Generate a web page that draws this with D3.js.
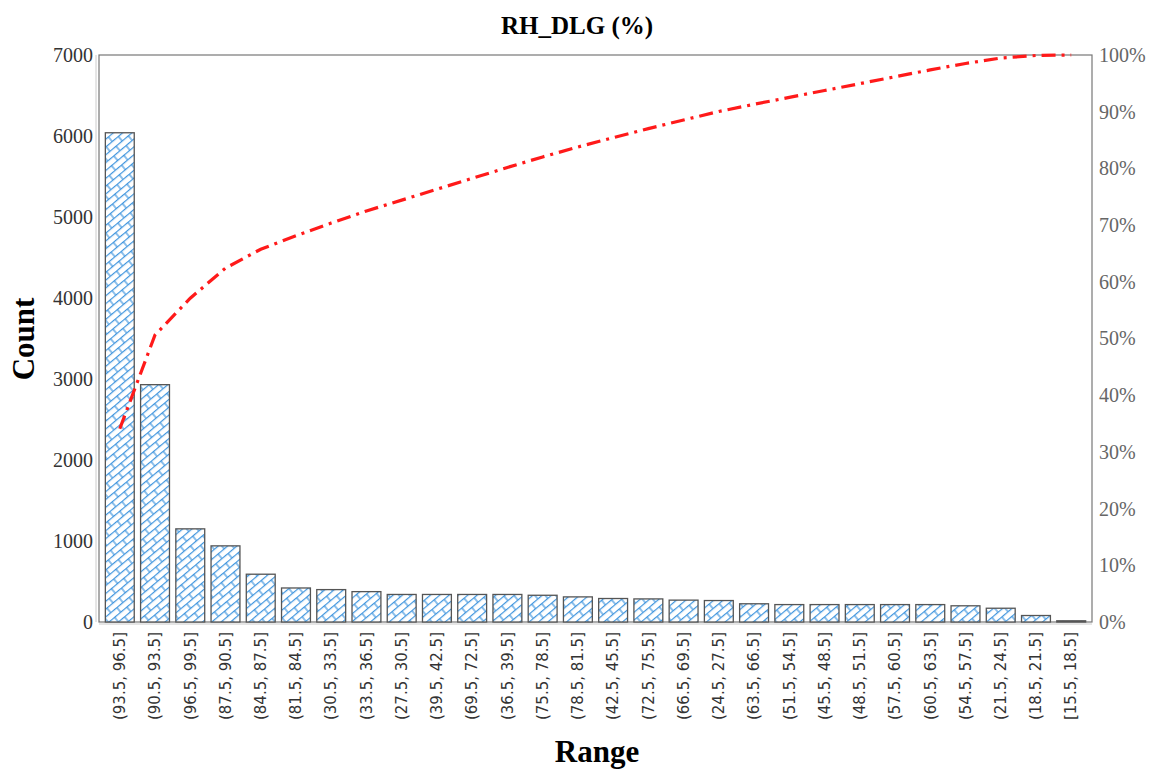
<!DOCTYPE html>
<html><head><meta charset="utf-8">
<script src="https://cdn.jsdelivr.net/npm/d3@7"></script>
<style>body{margin:0;background:#fff}</style>
</head><body>
<svg id="c" width="1157" height="772"></svg>
<script>
const categories = ["(93.5, 96.5]","(90.5, 93.5]","(96.5, 99.5]","(87.5, 90.5]","(84.5, 87.5]","(81.5, 84.5]","(30.5, 33.5]","(33.5, 36.5]","(27.5, 30.5]","(39.5, 42.5]","(69.5, 72.5]","(36.5, 39.5]","(75.5, 78.5]","(78.5, 81.5]","(42.5, 45.5]","(72.5, 75.5]","(66.5, 69.5]","(24.5, 27.5]","(63.5, 66.5]","(51.5, 54.5]","(45.5, 48.5]","(48.5, 51.5]","(57.5, 60.5]","(60.5, 63.5]","(54.5, 57.5]","(21.5, 24.5]","(18.5, 21.5]","[15.5, 18.5]"];
const counts = [6040,2930,1150,940,590,420,400,375,340,340,340,340,330,310,290,285,270,265,225,215,215,215,215,215,200,170,80,15];
const countTicks = [0,1000,2000,3000,4000,5000,6000,7000];
const pctTicks = [0,0.1,0.2,0.3,0.4,0.5,0.6,0.7,0.8,0.9,1.0];

const svg = d3.select("#c");
const L=99, R=1092, T=55, B=622;
const total = d3.sum(counts);
let acc=0; const cum = counts.map(v => (acc+=v)/total);

const defs = svg.append("defs");
const pat = defs.append("pattern").attr("id","brick").attr("patternUnits","userSpaceOnUse")
  .attr("width",16).attr("height",12).attr("patternTransform","rotate(-40)");
pat.append("rect").attr("width",16).attr("height",12).attr("fill","#fff");
const pc="#3f95de";
[0.6,6.6].forEach(yy=>pat.append("line").attr("x1",0).attr("x2",16).attr("y1",yy).attr("y2",yy).attr("stroke",pc).attr("stroke-width",1.2));
pat.append("line").attr("x1",3).attr("x2",3).attr("y1",0.6).attr("y2",6.6).attr("stroke",pc).attr("stroke-width",1.2);
pat.append("line").attr("x1",11).attr("x2",11).attr("y1",6.6).attr("y2",12.6).attr("stroke",pc).attr("stroke-width",1.2);

const x = d3.scaleBand().domain(categories).range([L,R]).paddingInner(0.18).paddingOuter(0.18);
const y = d3.scaleLinear().domain([0,7000]).range([B,T]);
const y2 = d3.scaleLinear().domain([0,1]).range([B,T]);

// frame
svg.append("rect").attr("x",L).attr("y",T).attr("width",R-L).attr("height",B-T)
  .attr("fill","#fff").attr("stroke","#777").attr("stroke-width",1.2);
svg.append("line").attr("x1",L-3).attr("x2",L-3).attr("y1",T).attr("y2",B).attr("stroke","#ccc").attr("stroke-width",1);
svg.append("line").attr("x1",L).attr("x2",R).attr("y1",B+2).attr("y2",B+2).attr("stroke","#ccc").attr("stroke-width",1);

svg.append("g").selectAll("rect").data(counts).join("rect")
  .attr("x",(d,i)=>x(categories[i])).attr("width",x.bandwidth())
  .attr("y",d=>y(d)).attr("height",d=>B-y(d))
  .attr("fill","url(#brick)").attr("stroke","#555").attr("stroke-width",1.3);

const line = d3.line().x((d,i)=>x(categories[i])+x.bandwidth()/2).y(d=>y2(d));
svg.append("path").datum(cum).attr("d",line).attr("fill","none")
  .attr("stroke","#ff1a1a").attr("stroke-width",3.2).attr("stroke-dasharray","14,6,3,6");

// left axis
const ay = svg.append("g").attr("transform",`translate(${L},0)`)
  .call(d3.axisLeft(y).tickValues(countTicks).tickSize(0).tickPadding(6).tickFormat(d3.format("d")));
ay.select(".domain").remove();
ay.selectAll("text").attr("font-family","'Liberation Serif',serif").attr("font-size",20).attr("fill","#333");

const ay2 = svg.append("g").attr("transform",`translate(${R},0)`)
  .call(d3.axisRight(y2).tickValues(pctTicks).tickSize(0).tickPadding(7).tickFormat(d3.format(".0%")));
ay2.select(".domain").remove();
ay2.selectAll("text").attr("font-family","'Liberation Serif',serif").attr("font-size",20).attr("fill","#666");

const ax = svg.append("g").attr("transform",`translate(0,${B})`)
  .call(d3.axisBottom(x).tickSize(0).tickPadding(0));
ax.select(".domain").remove();
ax.selectAll("text").attr("font-family","'DejaVu Sans',sans-serif").attr("font-size",15).attr("fill","#333")
  .attr("text-anchor","end").attr("dy","0.35em").attr("transform","translate(0,10) rotate(-90)").attr("x",0).attr("y",0);

svg.append("text").attr("x",577).attr("y",34).attr("text-anchor","middle")
  .attr("font-family","'Liberation Serif',serif").attr("font-weight","bold").attr("font-size",25).text("RH_DLG (%)");
svg.append("text").attr("x",597).attr("y",762).attr("text-anchor","middle")
  .attr("font-family","'Liberation Serif',serif").attr("font-weight","bold").attr("font-size",31).text("Range");
svg.append("text").attr("transform","translate(34,339) rotate(-90)").attr("text-anchor","middle")
  .attr("font-family","'Liberation Serif',serif").attr("font-weight","bold").attr("font-size",31).text("Count");
</script>
</body></html>
